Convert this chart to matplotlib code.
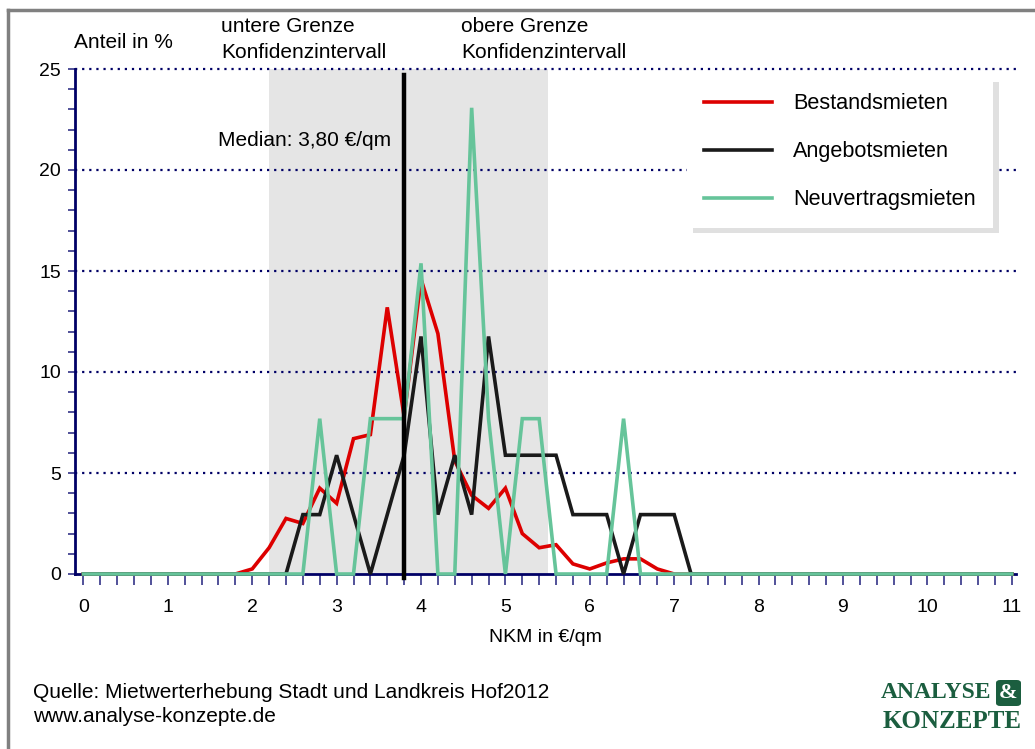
import matplotlib
matplotlib.use("Agg")
import matplotlib.pyplot as plt
from matplotlib.patches import FancyBboxPatch
from matplotlib.lines import Line2D

plt.rcParams['font.family'] = ['Liberation Sans', 'DejaVu Sans']

# NKM classes in 0.2 steps (0 .. 11 EUR/qm)
nkm = [round(0.2 * i, 1) for i in range(56)]

bestand = [0, 0, 0, 0, 0, 0, 0, 0, 0, 0,
           0.25, 1.3, 2.75, 2.5, 4.25, 3.5, 6.7, 6.9, 13.2, 7.8,
           14.6, 11.9, 5.6, 3.9, 3.25, 4.25, 2.0, 1.3, 1.45, 0.5,
           0.25, 0.55, 0.75, 0.75, 0.25,
           0, 0, 0, 0, 0, 0, 0, 0, 0, 0, 0, 0, 0, 0, 0, 0, 0, 0, 0, 0, 0]

angebot = [0, 0, 0, 0, 0, 0, 0, 0, 0, 0, 0, 0, 0,
           2.94, 2.94, 5.88, 2.94, 0, 2.94, 5.88, 11.76, 2.94, 5.88,
           2.94, 11.76, 5.88, 5.88, 5.88, 5.88, 2.94, 2.94, 2.94, 0,
           2.94, 2.94, 2.94,
           0, 0, 0, 0, 0, 0, 0, 0, 0, 0, 0, 0, 0, 0, 0, 0, 0, 0, 0, 0]

neuvertrag = [0, 0, 0, 0, 0, 0, 0, 0, 0, 0, 0, 0, 0, 0,
              7.69, 0, 0, 7.69, 7.69, 7.69, 15.38, 0, 0, 23.08,
              7.69, 0, 7.69, 7.69, 0, 0, 0, 0, 7.69, 0,
              0, 0, 0, 0, 0, 0, 0, 0, 0, 0, 0, 0, 0, 0, 0, 0, 0, 0, 0, 0, 0, 0]

series_names = ['Bestandsmieten', 'Angebotsmieten', 'Neuvertragsmieten']
series_colors = ['#dd0000', '#1a1a1a', '#66c49a']

median = 3.80
ki_low, ki_high = 2.2, 5.5

navy = '#000066'
fs = 15

fig = plt.figure(figsize=(10.35, 7.49), dpi=100)
ax = fig.add_axes([75 / 1035, 1 - 574 / 749, (1016 - 75) / 1035, (574 - 69) / 749])

# frame of the whole graphic (only left and top visible)
fig.add_artist(Line2D([8 / 1035, 8 / 1035], [0, 1 - 10 / 749], color='#808080', lw=2.5,
                      transform=fig.transFigure))
fig.add_artist(Line2D([8 / 1035, 1], [1 - 10 / 749, 1 - 10 / 749], color='#808080', lw=2.5,
                      transform=fig.transFigure))

ax.axvspan(ki_low, ki_high, ymin=0, ymax=1, color='#e5e5e5', zorder=0, lw=0)

for yv in [5, 10, 15, 20, 25]:
    ax.axhline(yv, color=navy, lw=1.6, ls=(0, (1, 2.2)), zorder=1, clip_on=False)

for vals, name, col in zip([bestand, angebot, neuvertrag], series_names, series_colors):
    ax.plot(nkm, vals, color=col, lw=2.6, label=name, zorder=3,
            solid_joinstyle='miter', clip_on=False)

ax.plot([median, median], [-0.2, 24.7], color='black', lw=3.2, zorder=5, clip_on=False)

ax.set_xlim(-0.1, 11.05)
ax.set_ylim(0, 25)

ax.set_xticks(nkm)
ax.set_xticklabels([str(int(v)) if abs(v - round(v)) < 1e-9 else '' for v in nkm])
ax.set_yticks(range(0, 26))
ax.set_yticklabels([str(v) if v % 5 == 0 else '' for v in range(0, 26)])
ax.tick_params(axis='x', direction='out', length=8, width=1.2, color='#333388',
               labelsize=14, pad=10)
ax.tick_params(axis='y', direction='out', length=5, width=1.2, color='#333388',
               labelsize=14, pad=5)

for s in ['top', 'right']:
    ax.spines[s].set_visible(False)
for s in ['left', 'bottom']:
    ax.spines[s].set_color(navy)
    ax.spines[s].set_linewidth(2)
ax.set_facecolor('white')

ax.set_xlabel('NKM in €/qm', fontsize=14, labelpad=9)

leg = ax.legend(loc='upper left', bbox_to_anchor=(687 / 1035, 1 - 76 / 749),
                bbox_transform=fig.transFigure, frameon=True, fancybox=False,
                fontsize=15.6, handlelength=3.1, handletextpad=1.0,
                labelspacing=1.25, borderpad=0.8, borderaxespad=0,
                shadow={'color': '#e0e0e0', 'ox': 4, 'oy': -4, 'alpha': 1})
leg.get_frame().set_edgecolor('white')
leg.get_frame().set_linewidth(0)
leg.set_zorder(10)

# annotations
fig.text(74 / 1035, 1 - 42 / 749, 'Anteil in %', fontsize=fs, va='center', ha='left')
fig.text(221 / 1035, 1 - 27 / 749, 'untere Grenze', fontsize=fs, va='center')
fig.text(221 / 1035, 1 - 52 / 749, 'Konfidenzintervall', fontsize=fs, va='center')
fig.text(461 / 1035, 1 - 27 / 749, 'obere Grenze', fontsize=fs, va='center')
fig.text(461 / 1035, 1 - 52 / 749, 'Konfidenzintervall', fontsize=fs, va='center')
fig.text(218 / 1035, 1 - 140 / 749, 'Median: 3,80 €/qm', fontsize=fs, va='center')

fig.text(33 / 1035, 1 - 692 / 749, 'Quelle: Mietwerterhebung Stadt und Landkreis Hof2012',
         fontsize=fs, va='center')
fig.text(33 / 1035, 1 - 716 / 749, 'www.analyse-konzepte.de', fontsize=fs, va='center')

# logo
green = '#1b5e3f'
fig.text(991 / 1035, 1 - 693 / 749, 'ANALYSE', family='Liberation Serif', weight='bold',
         fontsize=17, color=green, ha='right', va='center')
fig.add_artist(FancyBboxPatch((996 / 1035, 1 - 706 / 749), 25 / 1035, 26 / 749,
                              boxstyle='round,pad=0,rounding_size=0.004',
                              transform=fig.transFigure, color=green, lw=0))
fig.text(1008.5 / 1035, 1 - 693 / 749, '&', family='Liberation Serif', weight='bold',
         fontsize=16, color='white', ha='center', va='center')
fig.text(1022 / 1035, 1 - 721 / 749, 'KONZEPTE', family='Liberation Serif', weight='bold',
         fontsize=18, color=green, ha='right', va='center')

fig.savefig('out.png', dpi=100)
